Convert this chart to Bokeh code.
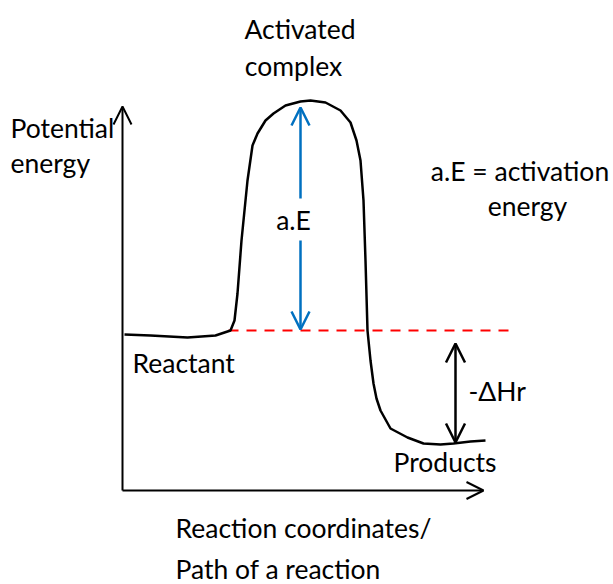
from bokeh.plotting import figure
from bokeh.models import Range1d, Arrow, OpenHead, ColumnDataSource
from bokeh.core.properties import value
from bokeh.embed import file_html
from bokeh.resources import INLINE

# --- data (reaction coordinate c, potential energy e; schematic units) ---
curve_c = [2, 28, 65, 93, 108, 112, 115, 119, 125, 130, 135, 143, 151, 163, 178, 188,
           203, 218, 228, 234, 238, 241, 243, 245, 248, 251, 254, 258, 268, 285, 301,
           318, 331, 348, 363]
curve_e = [156, 155, 153, 155, 160, 170, 197, 250, 310, 345, 357, 370, 377, 385, 389, 390,
           388, 380, 368, 350, 330, 290, 230, 160, 130, 107, 92, 80, 62, 53, 47,
           46, 47, 49, 50]

reactant_level = 160
ref_line_c = [106, 386]
peak_marker_c = 178
ae_top = 383
ae_gap = [292, 250]
dh_c = 333
dh_top = 147
dh_bottom = 48
axis_x_end = 361
axis_y_end = 384

label_center_text = ["Activated", "complex", "a.E = activation", "energy", "a.E"]
label_center_c = [177.5, 171, 397.5, 405, 171]
label_center_e = [462, 425, 320, 285, 271]

label_left_text = ["Potential", "energy", "Reactant", "-ΔHr", "Products",
                   "Reaction coordinates/", "Path of a reaction"]
label_left_c = [-112, -112, 10, 346, 271, 53, 53]
label_left_e = [363, 328, 128, 100, 29, -37, -78]

FONT = "Lato"
FSIZE = "26.5px"
BLUE = "#0070C0"

p = figure(width=613, height=584, x_range=Range1d(-122, 491), y_range=Range1d(-94, 490),
           output_backend="svg", toolbar_location=None, min_border=0,
           x_axis_type=None, y_axis_type=None)
p.grid.visible = False
p.outline_line_color = None
p.background_fill_color = "white"
p.border_fill_color = "white"

# axes drawn as arrows
p.add_layout(Arrow(x_start=0, y_start=0, x_end=0, y_end=axis_y_end,
                   end=OpenHead(size=18, line_width=2, line_color="black"),
                   line_width=2, line_color="black"))
p.add_layout(Arrow(x_start=0, y_start=0, x_end=axis_x_end, y_end=0,
                   end=OpenHead(size=17, line_width=2, line_color="black"),
                   line_width=2, line_color="black"))

# dashed reference line
p.line(ref_line_c, [reactant_level, reactant_level], line_color="#FF0000",
       line_width=2, line_dash="10 8")

# energy curve
p.line(curve_c, curve_e, line_color="black", line_width=2.5)

# activation energy arrow (split around the label)
p.add_layout(Arrow(x_start=peak_marker_c, y_start=ae_gap[0], x_end=peak_marker_c, y_end=ae_top,
                   end=OpenHead(size=18, line_width=2.5, line_color=BLUE),
                   line_width=2.5, line_color=BLUE))
p.add_layout(Arrow(x_start=peak_marker_c, y_start=ae_gap[1], x_end=peak_marker_c,
                   y_end=reactant_level + 1,
                   end=OpenHead(size=18, line_width=2.5, line_color=BLUE),
                   line_width=2.5, line_color=BLUE))

# enthalpy arrow
p.add_layout(Arrow(x_start=dh_c, y_start=dh_bottom, x_end=dh_c, y_end=dh_top,
                   start=OpenHead(size=19, line_width=2.5, line_color="black"),
                   end=OpenHead(size=19, line_width=2.5, line_color="black"),
                   line_width=2.5, line_color="black"))

src_c = ColumnDataSource(dict(x=label_center_c, y=label_center_e, t=label_center_text))
p.text(x="x", y="y", text="t", source=src_c, text_font=value(FONT),
       text_font_size=value(FSIZE), text_align="center", text_baseline="alphabetic",
       text_color="black")
src_l = ColumnDataSource(dict(x=label_left_c, y=label_left_e, t=label_left_text))
p.text(x="x", y="y", text="t", source=src_l, text_font=value(FONT),
       text_font_size=value(FSIZE), text_align="left", text_baseline="alphabetic",
       text_color="black")

open("out.html", "w").write(file_html(p, INLINE))
